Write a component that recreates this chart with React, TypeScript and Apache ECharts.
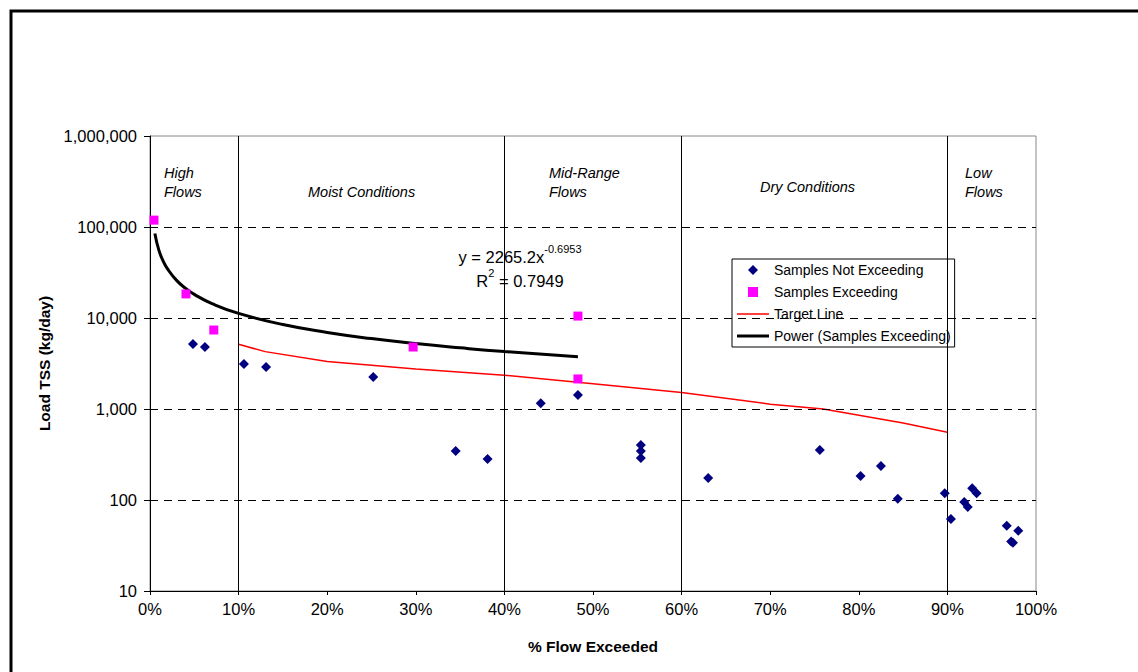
import React, { useEffect, useRef } from "react";
import * as echarts from "echarts";

const FONT = "Liberation Sans, Arial, sans-serif";

// % flow exceeded, load (kg/day)
const notExceeding: [number, number][] = [
  [4.85, 5180], [6.2, 4800], [10.6, 3130], [13.1, 2900], [25.2, 2250],
  [34.5, 345], [38.1, 282], [44.1, 1160], [48.3, 1425], [55.4, 402],
  [55.4, 345], [55.4, 290], [63.0, 175], [75.6, 354], [80.2, 184],
  [82.5, 237], [84.4, 103], [89.7, 119], [90.4, 62], [91.9, 95],
  [92.3, 84], [92.8, 135], [93.3, 119], [96.7, 52], [97.2, 35],
  [97.4, 34], [98.0, 46],
];
const exceeding: [number, number][] = [
  [0.45, 119000], [4.06, 18400], [7.2, 7380], [29.7, 4800], [48.3, 10500], [48.3, 2140],
];
const targetLine: [number, number][] = [
  [10, 5140], [13, 4270], [20, 3330], [30, 2750], [40, 2350], [50, 1900],
  [60, 1520], [70, 1130], [76, 1000], [85, 700], [90, 555],
];
const powerTrend: [number, number][] = [
  [0.55, 85000], [1, 55700], [1.5, 42000], [2, 34400], [3, 25900], [4, 21240],
  [5, 18190], [7, 14390], [10, 11230], [15, 8470], [20, 6940], [25, 5940],
  [30, 5230], [35, 4700], [40, 4280], [48.3, 3760],
];
const gridValues = [100, 1000, 10000, 100000];
const zoneBounds = [10, 40, 60, 90];

export default function App() {
  const ref = useRef<HTMLDivElement>(null);
  useEffect(() => {
    if (!ref.current) return;
    const chart = echarts.init(ref.current, null, { renderer: "svg" });
    const zoneText = (x: number, y: number, text: string) => ({
      type: "text",
      x,
      y,
      silent: true,
      style: {
        text,
        font: `italic 14.5px ${FONT}`,
        fill: "#000",
        lineHeight: 19,
        verticalAlign: "middle",
      },
    });
    const eqRich = {
      a: { fontSize: 16.5, fontFamily: FONT, fill: "#000", color: "#000", lineHeight: 22, verticalAlign: "bottom" },
      s: { fontSize: 11, fontFamily: FONT, fill: "#000", color: "#000", lineHeight: 22, verticalAlign: "top" },
    };
    chart.setOption({
      animation: false,
      backgroundColor: "#fff",
      textStyle: { fontFamily: FONT, color: "#000" },
      grid: {
        left: 150,
        right: 102,
        top: 136,
        bottom: 81,
        show: true,
        borderColor: "#888",
        borderWidth: 1,
      },
      legend: {
        left: 732,
        top: 259,
        orient: "vertical",
        padding: [4, 4, 4, 5],
        itemGap: 8,
        itemWidth: 32,
        itemHeight: 10,
        itemTextGap: 5,
        symbolKeepAspect: true,
        borderColor: "#000",
        borderWidth: 1,
        backgroundColor: "#fff",
        textStyle: { fontSize: 14, fontFamily: FONT, color: "#000" },
        data: [
          { name: "Samples Not Exceeding", icon: "path://M5,0L10,5L5,10L0,5Z" },
          { name: "Samples Exceeding", icon: "path://M0,0H9V9H0Z" },
          { name: "Target Line", icon: "path://M0,0H32V1.5H0Z" },
          { name: "Power (Samples Exceeding)", icon: "path://M0,0H32V3H0Z" },
        ],
      },
      xAxis: {
        type: "value",
        min: 0,
        max: 100,
        interval: 10,
        name: "% Flow Exceeded",
        nameLocation: "middle",
        nameGap: 47,
        nameTextStyle: { fontSize: 15.5, fontWeight: "bold", color: "#000", fontFamily: FONT },
        axisLine: { lineStyle: { color: "#000", width: 1 } },
        axisTick: { show: true, length: 4, lineStyle: { color: "#000" } },
        axisLabel: { formatter: (v: number) => `${v}%`, fontSize: 16.5, color: "#000", margin: 9, fontFamily: FONT },
        splitLine: { show: false },
      },
      yAxis: {
        type: "log",
        logBase: 10,
        min: 10,
        max: 1000000,
        name: "Load TSS (kg/day)",
        nameLocation: "middle",
        nameGap: 96,
        nameTextStyle: { fontSize: 15.5, fontWeight: "bold", color: "#000", fontFamily: FONT },
        axisLine: { show: true, lineStyle: { color: "#000", width: 1 } },
        axisTick: { show: true, length: 6, lineStyle: { color: "#000" } },
        axisLabel: {
          formatter: (v: number) => Math.round(v).toLocaleString("en-US"),
          fontSize: 16.5,
          color: "#000",
          margin: 13,
          fontFamily: FONT,
        },
        splitLine: { show: false },
      },
      graphic: [
        {
          type: "rect",
          x: 11,
          y: 11,
          shape: { width: 2000, height: 2000 },
          silent: true,
          style: { fill: "none", stroke: "#000", lineWidth: 3 },
        },
        zoneText(164, 182, "High\nFlows"),
        zoneText(308, 192, "Moist Conditions"),
        zoneText(549, 182, "Mid-Range\nFlows"),
        zoneText(760, 187, "Dry Conditions"),
        zoneText(965, 182, "Low\nFlows"),
        {
          type: "text",
          x: 520,
          y: 254,
          silent: true,
          style: {
            text: "{a|y = 2265.2x}{s|-0.6953}",
            align: "center",
            verticalAlign: "middle",
            rich: eqRich,
          },
        },
        {
          type: "text",
          x: 520,
          y: 278,
          silent: true,
          style: {
            text: "{a|R}{s|2}{a| = 0.7949}",
            align: "center",
            verticalAlign: "middle",
            rich: eqRich,
          },
        },
      ],
      series: [
        {
          name: "Target Line",
          type: "line",
          data: targetLine,
          symbol: "none",
          z: 3,
          lineStyle: { color: "#ff0000", width: 1.5 },
          itemStyle: { color: "#ff0000" },
          markLine: {
            silent: true,
            symbol: "none",
            label: { show: false },
            animation: false,
            data: [
              ...gridValues.map((v) => ({
                yAxis: v,
                lineStyle: { color: "#000", width: 1, type: [8, 6] },
              })),
              ...zoneBounds.map((v) => ({
                xAxis: v,
                lineStyle: { color: "#000", width: 1, type: "solid" },
              })),
            ],
          },
        },
        {
          name: "Power (Samples Exceeding)",
          type: "line",
          data: powerTrend,
          symbol: "none",
          smooth: true,
          z: 4,
          lineStyle: { color: "#000", width: 3 },
          itemStyle: { color: "#000" },
        },
        {
          name: "Samples Not Exceeding",
          type: "scatter",
          data: notExceeding,
          symbol: "diamond",
          symbolSize: 10,
          z: 5,
          itemStyle: { color: "#000080", opacity: 1 },
        },
        {
          name: "Samples Exceeding",
          type: "scatter",
          data: exceeding,
          symbol: "rect",
          symbolSize: 9,
          z: 5,
          itemStyle: { color: "#ff00ff", opacity: 1 },
        },
      ],
    });
    return () => chart.dispose();
  }, []);
  return (
    <div
      ref={ref}
      style={{ position: "fixed", left: 0, top: 0, width: 1138, height: 672, background: "#fff" }}
    />
  );
}
